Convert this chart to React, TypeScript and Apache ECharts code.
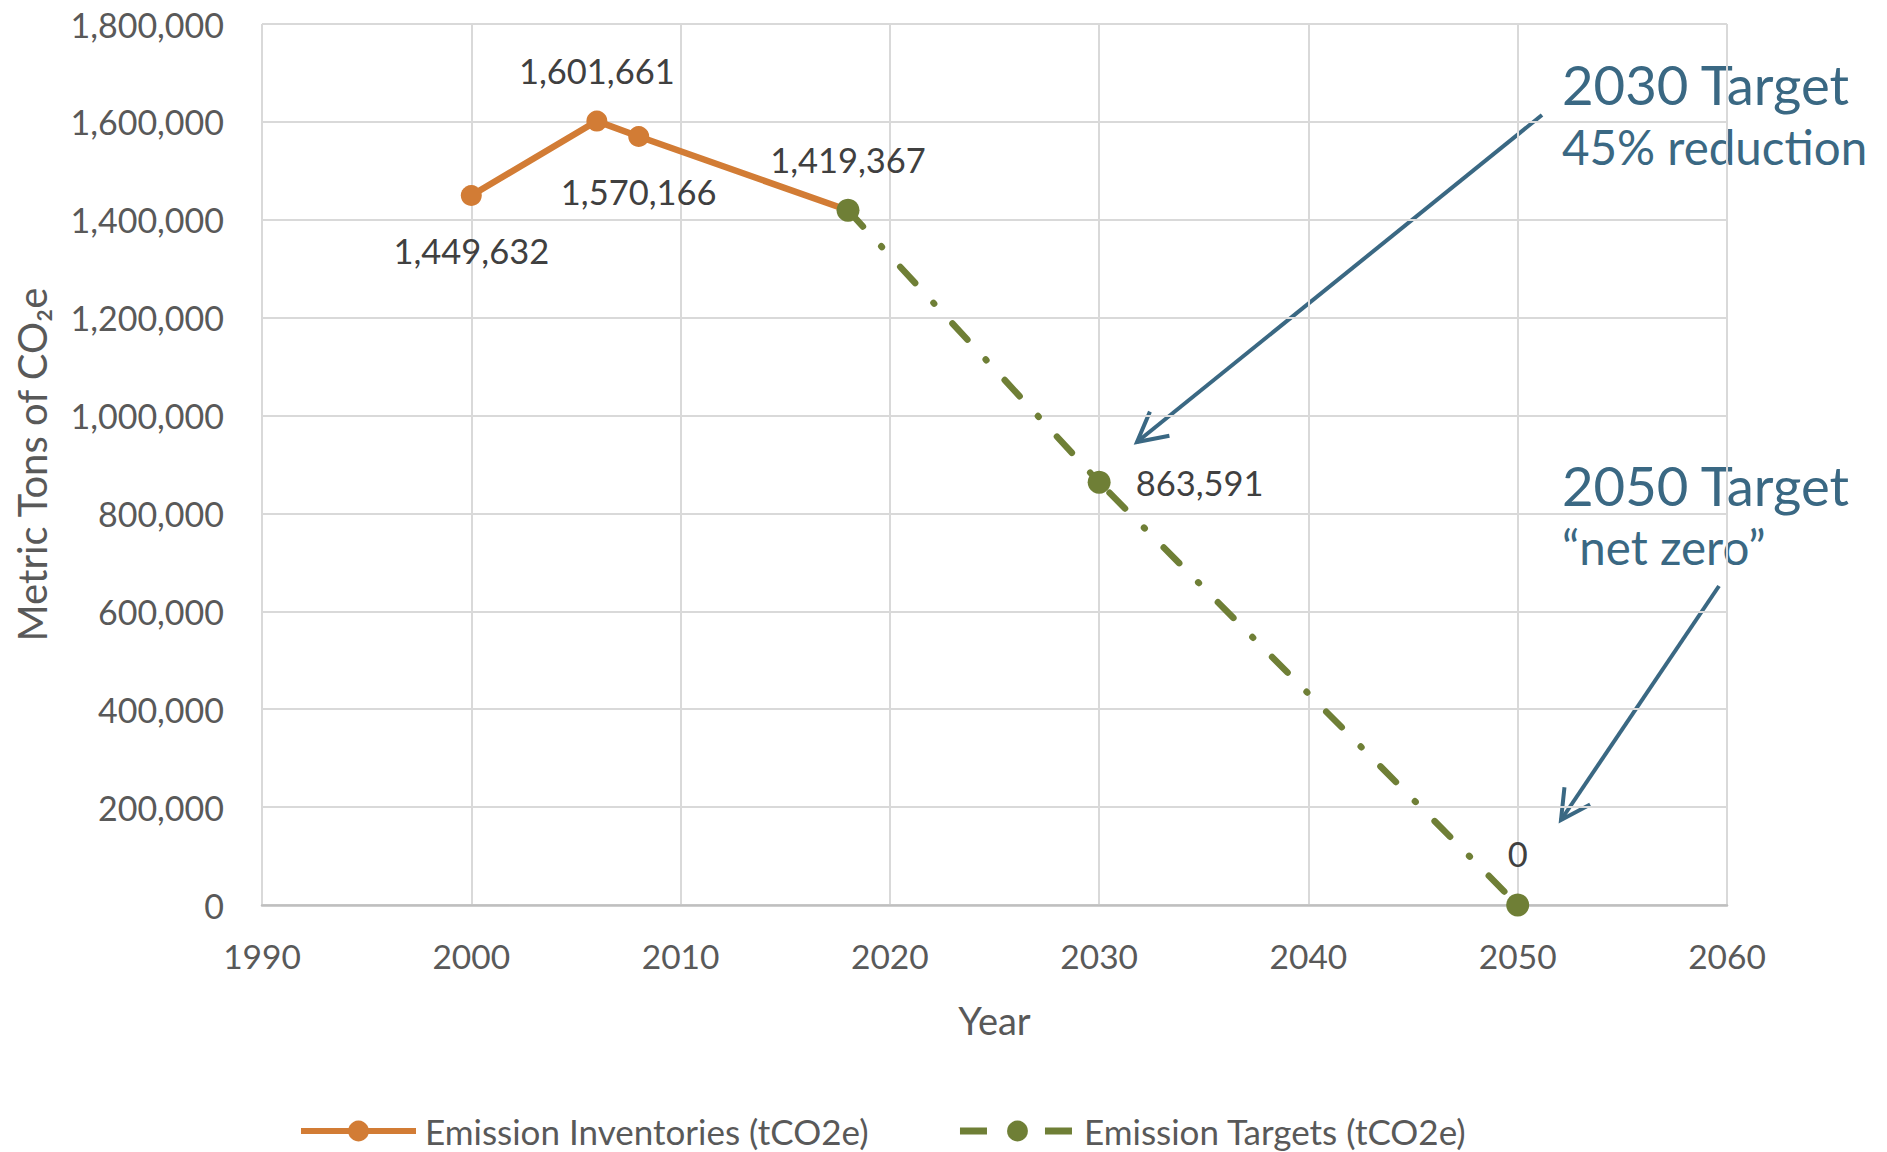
import React, { useEffect, useRef } from 'react';
import * as echarts from 'echarts';

// ---- data ----
const inventoryYears = [2000, 2006, 2008, 2018];
const inventoryValues = [1449632, 1601661, 1570166, 1419367];
const inventoryLabelPos = ['bottom', 'top', 'bottom', 'top'];
const targetYears = [2018, 2030, 2050];
const targetValues = [1419367, 863591, 0];
const targetLabelPos = ['none', 'right', 'top'];
const seriesNames = ['Emission Inventories (tCO2e)', 'Emission Targets (tCO2e)'];
const xMin = 1990, xMax = 2060, xStep = 10;
const yMin = 0, yMax = 1800000, yStep = 200000;
const annotationTitles = ['2030 Target', '2050 Target'];
const annotationSubtitles = ['45% reduction', '\u201cnet zero\u201d'];

const FONT = 'Lato, "Noto Sans", sans-serif';
const ORANGE = '#D27C35';
const GREEN = '#6F7F36';
const BLUE = '#3A6883';
const AXIS_TXT = '#595959';
const LABEL_TXT = '#404040';

const fmt = (v: number) => v.toLocaleString('en-US');

function labelFor(pos: string, color: string) {
  if (pos === 'none') return { show: false };
  const dist = pos === 'bottom' ? 27 : pos === 'right' ? 25 : 23;
  return {
    show: true,
    position: pos,
    distance: dist,
    color,
    fontSize: 34.5,
    fontFamily: FONT,
    formatter: (p: any) => fmt(p.value[1]),
  };
}

function arrow(sx: number, sy: number, tx: number, ty: number) {
  const dx = sx - tx, dy = sy - ty;
  const L = Math.hypot(dx, dy);
  const ux = dx / L, uy = dy / L;
  const a = (28 * Math.PI) / 180;
  const len = 33;
  const rot = (s: number) => [
    tx + len * (ux * Math.cos(s * a) - uy * Math.sin(s * a)),
    ty + len * (ux * Math.sin(s * a) + uy * Math.cos(s * a)),
  ];
  return [
    { type: 'line', shape: { x1: sx, y1: sy, x2: tx, y2: ty }, style: { stroke: BLUE, lineWidth: 4 } },
    {
      type: 'polyline',
      shape: { points: [rot(1), [tx, ty], rot(-1)] },
      style: { stroke: BLUE, lineWidth: 4, fill: null, lineJoin: 'miter' },
    },
  ];
}

export default function App() {
  const ref = useRef<HTMLDivElement>(null);
  useEffect(() => {
    document.body.style.margin = '0';
    const chart = echarts.init(ref.current!, null, { renderer: 'svg' });
    const option: any = {
      animation: false,
      backgroundColor: '#ffffff',
      grid: { left: 262, right: 160, top: 24, bottom: 247, containLabel: false },
      xAxis: {
        type: 'value',
        min: xMin,
        max: xMax,
        interval: xStep,
        name: 'Year',
        nameLocation: 'middle',
        nameGap: 96,
        nameTextStyle: { fontSize: 38, color: AXIS_TXT, fontFamily: FONT },
        axisLine: { show: true, lineStyle: { color: '#BFBFBF', width: 2.5 } },
        axisTick: { show: false },
        axisLabel: { margin: 34, fontSize: 33.5, color: AXIS_TXT, fontFamily: FONT, formatter: (v: number) => String(v) },
        splitLine: { show: true, lineStyle: { color: '#D9D9D9', width: 2 } },
      },
      yAxis: {
        type: 'value',
        min: yMin,
        max: yMax,
        interval: yStep,
        name: 'Metric Tons of CO\u2082e',
        nameLocation: 'middle',
        nameRotate: 90,
        nameGap: 210,
        nameTextStyle: { fontSize: 40, color: AXIS_TXT, fontFamily: FONT },
        axisLine: { show: false },
        axisTick: { show: false },
        axisLabel: { margin: 38, fontSize: 34, color: AXIS_TXT, fontFamily: FONT, formatter: (v: number) => fmt(v) },
        splitLine: { show: true, lineStyle: { color: '#D9D9D9', width: 2 } },
      },
      legend: {
        left: 298,
        top: 1112,
        padding: 0,
        itemWidth: 115,
        itemHeight: 26,
        itemGap: 88,
        textStyle: { fontSize: 35, lineHeight: 38, color: AXIS_TXT, fontFamily: FONT, padding: [0, 0, 0, 4] },
        data: [
          { name: seriesNames[0], lineStyle: { width: 6 } },
          { name: seriesNames[1], lineStyle: { width: 7, type: [27, 58], cap: 'butt' } },
        ],
      },
      series: [
        {
          name: seriesNames[0],
          type: 'line',
          symbol: 'circle',
          symbolSize: 21,
          color: ORANGE,
          itemStyle: { color: ORANGE },
          lineStyle: { color: ORANGE, width: 6.5 },
          z: 2,
          data: inventoryYears.map((x, i) => ({
            value: [x, inventoryValues[i]],
            label: labelFor(inventoryLabelPos[i], LABEL_TXT),
          })),
        },
        {
          name: seriesNames[1],
          type: 'line',
          symbol: 'circle',
          symbolSize: 23,
          color: GREEN,
          itemStyle: { color: GREEN },
          lineStyle: { color: GREEN, width: 6.5, type: [22, 27, 1, 27], cap: 'round' },
          z: 3,
          data: targetYears.map((x, i) => ({
            value: [x, targetValues[i]],
            label: labelFor(targetLabelPos[i], LABEL_TXT),
          })),
        },
      ],
      graphic: [
        { type: 'text', x: 1562, y: 84, style: { text: annotationTitles[0], fill: BLUE, fontSize: 54.5, fontFamily: FONT, verticalAlign: 'middle', align: 'left' } },
        { type: 'text', x: 1562, y: 146, style: { text: annotationSubtitles[0], fill: BLUE, fontSize: 47.5, fontFamily: FONT, verticalAlign: 'middle', align: 'left' } },
        { type: 'text', x: 1562, y: 485, style: { text: annotationTitles[1], fill: BLUE, fontSize: 54.5, fontFamily: FONT, verticalAlign: 'middle', align: 'left' } },
        { type: 'text', x: 1562, y: 546, style: { text: annotationSubtitles[1], fill: BLUE, fontSize: 47.5, fontFamily: FONT, verticalAlign: 'middle', align: 'left' } },
        ...arrow(1542, 115, 1137, 442),
        ...arrow(1719, 586, 1561, 820),
      ],
    };
    chart.setOption(option);
    return () => chart.dispose();
  }, []);
  return <div ref={ref} style={{ position: 'absolute', left: 0, top: 0, width: 1887, height: 1152 }} />;
}
